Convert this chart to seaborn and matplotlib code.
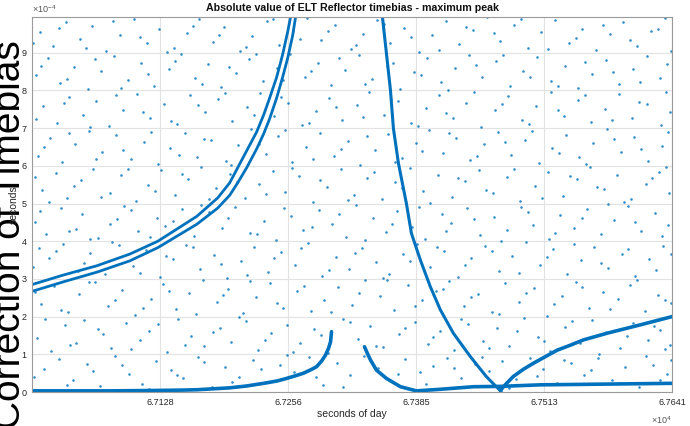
import numpy as np
import pandas as pd
import seaborn as sns
import matplotlib.pyplot as plt

sns.set_style('white')
plt.rcParams['font.family'] = ['Liberation Sans', 'DejaVu Sans']
plt.rcParams['mathtext.fontset'] = 'custom'
plt.rcParams['mathtext.rm'] = 'Liberation Sans'
plt.rcParams['mathtext.it'] = 'Liberation Sans'

SCALE = 1e-4  # y values below are in units of 1e-4 s
BLUE = '#0072BD'

# double track (outer / inner)
upper_x = [67000, 67031, 67065, 67098, 67126, 67165, 67186, 67198, 67206, 67215,
           67225, 67232, 67238, 67245, 67251, 67256, 67259]
upper_y = [2.85, 3.10, 3.35, 3.66, 4.00, 4.66, 5.15, 5.55, 5.95, 6.40,
           6.90, 7.35, 7.80, 8.35, 8.95, 9.55, 9.95]
lower_x = [67000, 67031, 67065, 67098, 67126, 67165, 67186, 67198, 67206, 67215,
           67225, 67232, 67238, 67245, 67251, 67256, 67261, 67264]
lower_y = [2.67, 2.92, 3.18, 3.48, 3.83, 4.45, 4.88, 5.22, 5.55, 5.95,
           6.45, 6.85, 7.25, 7.80, 8.35, 8.85, 9.45, 9.95]

# bottom left track
base_x = [67000, 67040, 67080, 67120, 67150, 67165, 67185, 67198, 67215, 67232,
          67245, 67255, 67265, 67272, 67280, 67285, 67290, 67294, 67297, 67299, 67300]
base_y = [0.03, 0.03, 0.03, 0.04, 0.05, 0.06, 0.09, 0.11, 0.16, 0.23,
          0.29, 0.36, 0.44, 0.50, 0.60, 0.67, 0.82, 0.98, 1.16, 1.33, 1.60]

# bottom right track (U then flat)
flat_x = [67333, 67336, 67339, 67345, 67355, 67369, 67385, 67408, 67442, 67470,
          67509, 67576, 67641]
flat_y = [1.20, 1.02, 0.85, 0.58, 0.36, 0.14, 0.03, 0.07, 0.14, 0.15,
          0.19, 0.21, 0.23]

# steep descending track
steep_x = [67351, 67355, 67359, 67362, 67367, 67375, 67380, 67389, 67399, 67409,
           67422, 67439, 67455, 67465, 67470]
steep_y = [9.95, 8.98, 8.01, 6.99, 6.07, 5.00, 4.21, 3.50, 2.79, 2.18,
           1.56, 0.94, 0.41, 0.14, 0.02]

# rising track to the right
rise_x = [67469, 67475, 67482, 67492, 67502, 67515, 67526, 67540, 67552, 67576,
          67609, 67641]
rise_y = [0.04, 0.22, 0.41, 0.60, 0.76, 0.95, 1.11, 1.25, 1.38, 1.56,
          1.78, 2.00]

# scattered outliers: (seconds after 67000, value in 1e-4 s)
noise = [
    (12, 0.62), (27, 0.88), (41, 0.31), (55, 0.74), (68, 0.15), (83, 0.95), (97, 0.47), (110, 0.22),
    (124, 0.81), (139, 0.58), (151, 0.36), (166, 0.92), (180, 0.12), (193, 0.66), (207, 0.41),
    (221, 0.85), (236, 0.27), (248, 0.71), (262, 0.53), (277, 0.94), (291, 0.18), (305, 0.77),
    (318, 0.44), (333, 0.96), (347, 0.63), (360, 0.29), (374, 0.87), (389, 0.52), (402, 0.69),
    (416, 0.91), (430, 0.38), (444, 0.75), (458, 0.56), (471, 0.83), (485, 0.34), (499, 0.91),
    (512, 0.61), (526, 0.24), (540, 0.78), (553, 0.46), (567, 0.89), (581, 0.33), (594, 0.67),
    (608, 0.14), (622, 0.72), (636, 0.49),
    (2, 0.41), (35, 0.19), (61, 0.55), (90, 0.71), (117, 0.09), (145, 0.44), (172, 0.79), (200, 0.26),
    (229, 0.61), (255, 0.97), (284, 0.39), (311, 0.13), (340, 0.81), (367, 0.47), (395, 0.21),
    (423, 0.64), (451, 0.93), (478, 0.11), (506, 0.42), (533, 0.86), (560, 0.59), (588, 0.23),
    (615, 0.95), (629, 0.31), (640, 0.84),
    (5, 1.42), (19, 1.08), (33, 1.77), (38, 1.25), (52, 1.91), (71, 1.53), (79, 1.16), (94, 1.84),
    (108, 1.37), (117, 1.62), (135, 1.05), (146, 1.95), (159, 1.48), (172, 1.21), (188, 1.71),
    (199, 1.33), (214, 1.88), (226, 1.12), (239, 1.57), (255, 1.79), (268, 1.29), (282, 1.66),
    (296, 1.03), (311, 1.94), (327, 1.41), (339, 1.74), (352, 1.19), (368, 1.55), (384, 1.86),
    (397, 1.27), (409, 1.63), (423, 1.11), (437, 1.81), (452, 1.35), (466, 1.69), (478, 1.22),
    (493, 1.97), (507, 1.45), (519, 1.09), (534, 1.73), (549, 1.31), (561, 1.92), (575, 1.58),
    (589, 1.17), (602, 1.83), (617, 1.39), (629, 1.64), (639, 1.26),
    (13, 1.93), (44, 1.31), (66, 1.67), (99, 1.14), (126, 1.81), (153, 1.26), (181, 1.59), (207, 1.98),
    (233, 1.39), (261, 1.07), (289, 1.52), (318, 1.87), (345, 1.23), (374, 1.71), (402, 1.46),
    (430, 1.95), (458, 1.18), (486, 1.61), (513, 1.34), (541, 1.89), (568, 1.02), (596, 1.49),
    (623, 1.76), (634, 1.13),
    (9, 2.34), (22, 2.81), (36, 2.12), (47, 2.59), (63, 2.93), (76, 2.27), (90, 2.71), (103, 2.05),
    (119, 2.48), (131, 2.86), (144, 2.19), (157, 2.63), (171, 2.97), (185, 2.38), (196, 2.74),
    (211, 2.09), (224, 2.52), (238, 2.89), (251, 2.23), (265, 2.67), (279, 2.14), (292, 2.45),
    (306, 2.78), (321, 2.31), (334, 2.96), (349, 2.56), (363, 2.17), (377, 2.83), (391, 2.43),
    (405, 2.68), (418, 2.94), (433, 2.27), (447, 2.61), (461, 2.11), (474, 2.88), (488, 2.39),
    (503, 2.75), (516, 2.02), (531, 2.54), (545, 2.91), (558, 2.24), (572, 2.66), (587, 2.46),
    (599, 2.85), (614, 2.16), (627, 2.58), (640, 2.37),
    (3, 2.66), (29, 2.17), (57, 2.92), (83, 2.43), (111, 2.22), (137, 2.69), (164, 2.08), (191, 2.57),
    (218, 2.95), (245, 2.35), (272, 2.82), (299, 2.13), (328, 2.62), (356, 2.98), (384, 2.29),
    (412, 2.74), (440, 2.51), (468, 2.06), (495, 2.64), (523, 2.33), (551, 2.79), (579, 2.19),
    (606, 2.97), (634, 2.44),
    (7, 3.83), (17, 3.55), (31, 3.94), (46, 3.21), (58, 3.68), (73, 3.12), (87, 3.89), (101, 3.35),
    (114, 3.76), (128, 3.06), (141, 3.52), (154, 3.91), (168, 3.27), (182, 3.64), (195, 3.03),
    (209, 3.47), (222, 3.86), (236, 3.19), (249, 3.71), (263, 3.38), (276, 3.95), (290, 3.09),
    (304, 3.58), (317, 3.26), (331, 3.82), (345, 3.44), (358, 3.13), (372, 3.67), (386, 3.92),
    (399, 3.31), (413, 3.74), (427, 3.05), (440, 3.56), (454, 3.87), (468, 3.22), (481, 3.61),
    (495, 3.97), (509, 3.36), (522, 3.79), (536, 3.14), (550, 3.49), (563, 3.84), (577, 3.29),
    (591, 3.65), (604, 3.08), (618, 3.53), (632, 3.88),
    (1, 3.31), (24, 3.74), (52, 3.43), (80, 3.98), (108, 3.17), (134, 3.62), (161, 3.84), (189, 3.39),
    (215, 3.11), (242, 3.55), (269, 3.81), (297, 3.24), (324, 3.69), (352, 3.02), (379, 3.47),
    (406, 3.86), (434, 3.36), (461, 3.73), (488, 3.16), (516, 3.58), (543, 3.93), (570, 3.41),
    (597, 3.79), (625, 3.23), (640, 3.66),
    (3, 4.52), (14, 4.18), (29, 4.87), (44, 4.33), (50, 4.71), (66, 4.09), (85, 4.58), (92, 4.94),
    (106, 4.26), (125, 4.63), (133, 4.41), (150, 4.85), (162, 4.14), (177, 4.77), (190, 4.36),
    (203, 4.92), (218, 4.21), (232, 4.55), (244, 4.03), (259, 4.68), (271, 4.29), (287, 4.83),
    (300, 4.47), (314, 4.12), (325, 4.96), (342, 4.61), (355, 4.24), (366, 4.79), (381, 4.38),
    (394, 4.06), (411, 4.73), (420, 4.49), (436, 4.88), (449, 4.17), (463, 4.64), (476, 4.31),
    (490, 4.91), (502, 4.44), (518, 4.07), (529, 4.69), (543, 4.34), (556, 4.86), (570, 4.19),
    (583, 4.57), (597, 4.93), (610, 4.27), (624, 4.74), (637, 4.42),
    (8, 4.79), (37, 4.27), (58, 4.06), (78, 4.45), (99, 4.84), (118, 4.12), (141, 4.53), (169, 4.97),
    (196, 4.61), (225, 4.19), (252, 4.88), (280, 4.37), (307, 4.72), (334, 4.03), (361, 4.46),
    (388, 4.91), (415, 4.26), (443, 4.59), (470, 4.01), (497, 4.77), (524, 4.23), (551, 4.63),
    (577, 4.98), (604, 4.52), (631, 4.15),
    (10, 5.36), (24, 5.81), (35, 5.14), (49, 5.62), (61, 5.93), (78, 5.27), (89, 5.75), (104, 5.08),
    (116, 5.49), (129, 5.88), (143, 5.22), (156, 5.66), (169, 5.97), (184, 5.41), (198, 5.79),
    (213, 5.15), (227, 5.53), (241, 5.86), (253, 5.31), (267, 5.72), (281, 5.04), (295, 5.45),
    (309, 5.91), (323, 5.24), (336, 5.68), (351, 5.12), (364, 5.57), (379, 5.94), (392, 5.33),
    (407, 5.76), (421, 5.18), (434, 5.61), (448, 5.89), (462, 5.28), (476, 5.71), (489, 5.06),
    (504, 5.47), (517, 5.84), (532, 5.21), (546, 5.64), (559, 5.96), (573, 5.38), (586, 5.77),
    (600, 5.11), (615, 5.52), (628, 5.85), (638, 5.29),
    (3, 5.71), (17, 5.05), (42, 5.47), (69, 5.17), (96, 5.91), (123, 5.34), (150, 5.78), (177, 5.13),
    (205, 5.58), (234, 5.26), (260, 5.95), (288, 5.62), (316, 5.09), (343, 5.83), (371, 5.42),
    (399, 5.01), (427, 5.69), (455, 5.37), (483, 5.92), (511, 5.16), (539, 5.74), (566, 5.43),
    (593, 5.03), (621, 5.67), (635, 5.97),
    (6, 6.27), (18, 6.74), (30, 6.11), (43, 6.58), (57, 6.93), (70, 6.36), (84, 6.81), (99, 6.19),
    (112, 6.63), (126, 6.05), (138, 6.47), (153, 6.88), (165, 6.23), (179, 6.69), (194, 6.14),
    (206, 6.55), (219, 6.97), (234, 6.32), (246, 6.78), (260, 6.09), (274, 6.51), (288, 6.86),
    (302, 6.25), (316, 6.66), (329, 6.03), (344, 6.43), (357, 6.84), (371, 6.21), (385, 6.61),
    (398, 6.95), (412, 6.34), (425, 6.73), (439, 6.16), (453, 6.57), (467, 6.91), (480, 6.29),
    (494, 6.68), (508, 6.07), (521, 6.48), (535, 6.83), (548, 6.24), (562, 6.62), (576, 6.98),
    (590, 6.37), (603, 6.76), (617, 6.12), (631, 6.53),
    (12, 6.49), (37, 6.86), (64, 6.17), (91, 6.42), (119, 6.91), (147, 6.28), (172, 6.72), (199, 6.01),
    (227, 6.58), (253, 6.94), (281, 6.18), (309, 6.45), (336, 6.79), (364, 6.11), (391, 6.39),
    (418, 6.87), (446, 6.26), (474, 6.64), (501, 6.93), (528, 6.33), (555, 6.06), (583, 6.71),
    (610, 6.44), (637, 6.89),
    (11, 7.58), (25, 7.14), (37, 7.83), (51, 7.36), (64, 7.71), (77, 7.05), (91, 7.49), (105, 7.92),
    (118, 7.26), (132, 7.64), (145, 7.11), (158, 7.87), (173, 7.42), (186, 7.77), (200, 7.19),
    (215, 7.56), (228, 7.94), (242, 7.31), (256, 7.68), (270, 7.08), (284, 7.45), (297, 7.81),
    (310, 7.23), (326, 7.61), (338, 7.97), (353, 7.34), (367, 7.72), (380, 7.13), (395, 7.53),
    (408, 7.89), (422, 7.28), (435, 7.66), (450, 7.04), (464, 7.47), (477, 7.85), (491, 7.21),
    (505, 7.59), (520, 7.96), (533, 7.33), (547, 7.74), (560, 7.16), (574, 7.52), (588, 7.91),
    (601, 7.27), (616, 7.63), (630, 7.09), (639, 7.44),
    (4, 7.24), (32, 7.68), (58, 7.02), (84, 7.89), (111, 7.43), (139, 7.18), (166, 7.61), (193, 7.93),
    (222, 7.36), (249, 7.84), (277, 7.13), (304, 7.57), (332, 7.29), (360, 7.78), (387, 7.06),
    (415, 7.41), (443, 7.97), (471, 7.64), (498, 7.12), (527, 7.48), (554, 7.88), (581, 7.22),
    (608, 7.69), (635, 7.95),
    (4, 8.41), (16, 8.87), (28, 8.19), (42, 8.63), (56, 8.05), (69, 8.52), (82, 8.91), (96, 8.28),
    (109, 8.74), (122, 8.12), (137, 8.57), (149, 8.96), (163, 8.33), (176, 8.69), (189, 8.08),
    (204, 8.46), (217, 8.83), (231, 8.24), (245, 8.61), (258, 8.97), (273, 8.37), (286, 8.72),
    (299, 8.15), (313, 8.55), (328, 8.93), (341, 8.31), (356, 8.66), (369, 8.03), (383, 8.49),
    (396, 8.86), (410, 8.22), (424, 8.59), (438, 8.94), (451, 8.35), (465, 8.77), (479, 8.11),
    (492, 8.53), (506, 8.89), (520, 8.26), (534, 8.64), (547, 8.07), (561, 8.44), (575, 8.81),
    (588, 8.18), (602, 8.58), (616, 8.92), (629, 8.34),
    (9, 8.66), (35, 8.31), (63, 8.84), (89, 8.07), (116, 8.43), (143, 8.79), (170, 8.16), (197, 8.62),
    (224, 8.97), (251, 8.28), (279, 8.51), (307, 8.87), (334, 8.18), (362, 8.73), (390, 8.41),
    (417, 8.02), (445, 8.68), (472, 8.95), (499, 8.37), (527, 8.13), (554, 8.76), (582, 8.49),
    (609, 8.23), (636, 8.71),
    (8, 9.55), (21, 9.18), (34, 9.82), (48, 9.37), (60, 9.71), (74, 9.06), (88, 9.48), (102, 9.89),
    (115, 9.25), (127, 9.63), (142, 9.12), (155, 9.53), (167, 9.91), (181, 9.29), (192, 9.68),
    (208, 9.04), (220, 9.44), (235, 9.85), (247, 9.21), (261, 9.59), (275, 9.93), (289, 9.33),
    (303, 9.74), (319, 9.09), (332, 9.51), (346, 9.88), (359, 9.27), (373, 9.66), (388, 9.02),
    (401, 9.46), (415, 9.84), (428, 9.23), (442, 9.61), (456, 9.94), (469, 9.31), (483, 9.73),
    (497, 9.14), (510, 9.55), (524, 9.87), (538, 9.26), (551, 9.64), (565, 9.08), (579, 9.49),
    (592, 9.81), (606, 9.19), (620, 9.57), (634, 9.92),
    (1, 9.27), (27, 9.66), (54, 9.12), (81, 9.84), (108, 9.41), (135, 9.03), (161, 9.72), (187, 9.48),
    (214, 9.16), (241, 9.91), (268, 9.36), (296, 9.58), (325, 9.21), (353, 9.77), (380, 9.43),
    (408, 9.07), (435, 9.69), (463, 9.52), (490, 9.89), (517, 9.11), (545, 9.38), (572, 9.75),
    (599, 9.33), (627, 9.62), (640, 9.05),
]

noise_df = pd.DataFrame(noise, columns=['t', 'v'])
noise_df['t'] = noise_df['t'] + 67000
noise_df['v'] = noise_df['v'] * SCALE

fig = plt.figure(figsize=(6.9, 4.26), dpi=100)
ax = fig.add_axes([32 / 690, 34 / 426, 640 / 690, 375 / 426])

sns.scatterplot(data=noise_df, x='t', y='v', ax=ax, s=3.5, color=BLUE,
                linewidth=0, alpha=0.8, legend=False)

tracks = [(upper_x, upper_y, 2.0), (lower_x, lower_y, 2.0), (base_x, base_y, 2.6),
          (flat_x, flat_y, 2.6), (steep_x, steep_y, 2.2), (rise_x, rise_y, 2.6)]
for tx, ty, lw in tracks:
    sns.lineplot(x=tx, y=np.array(ty) * SCALE, ax=ax, color=BLUE, lw=lw,
                 sort=False, estimator=None)

ax.set_xlim(67000, 67641)
ax.set_ylim(0, 9.95e-4)
ax.set_xticks([67128.2, 67256.4, 67384.6, 67512.8, 67641])
ax.set_yticks(np.arange(10) * SCALE)
ax.xaxis.set_major_formatter(plt.FuncFormatter(lambda v, p: f'{v / 1e4:.4f}'))
ax.yaxis.set_major_formatter(plt.FuncFormatter(lambda v, p: f'{v / SCALE:.0f}'))
ax.tick_params(direction='in', length=3, width=0.6, color='#555555',
               labelsize=6.5, labelcolor='#262626', pad=4)
ax.grid(True, color='#e2e2e2', lw=0.8)
for sp in ax.spines.values():
    sp.set_color('#9a9a9a')
    sp.set_linewidth(0.8)

ax.set_title('Absolute value of ELT Reflector timebias - maximum peak',
             fontsize=7.7, fontweight='bold', color='#111111', pad=4)
ax.set_xlabel('seconds of day', fontsize=7.5, color='#262626')
ax.set_ylabel('seconds', fontsize=7.5, color='#262626')
ax.xaxis.set_label_coords(0.5, -0.045)
ax.yaxis.set_label_coords(-0.02, 0.5)

ax.text(0, 1.004, r'$\times10^{-4}$', transform=ax.transAxes, ha='left',
        va='bottom', fontsize=6.5, color='#555555')
ax.text(1, -0.06, r'$\times10^{4}$', transform=ax.transAxes, ha='right',
        va='top', fontsize=6.5, color='#555555')

# large overlaid caption, partly cut by the left edge, drawn behind the axes
fig.text(20 / 690, -3 / 426, 'Correction of Timebias', rotation=90,
         rotation_mode='anchor', ha='left', va='baseline', fontsize=28,
         color='black', zorder=-1)

fig.savefig('out.png', dpi=100)
